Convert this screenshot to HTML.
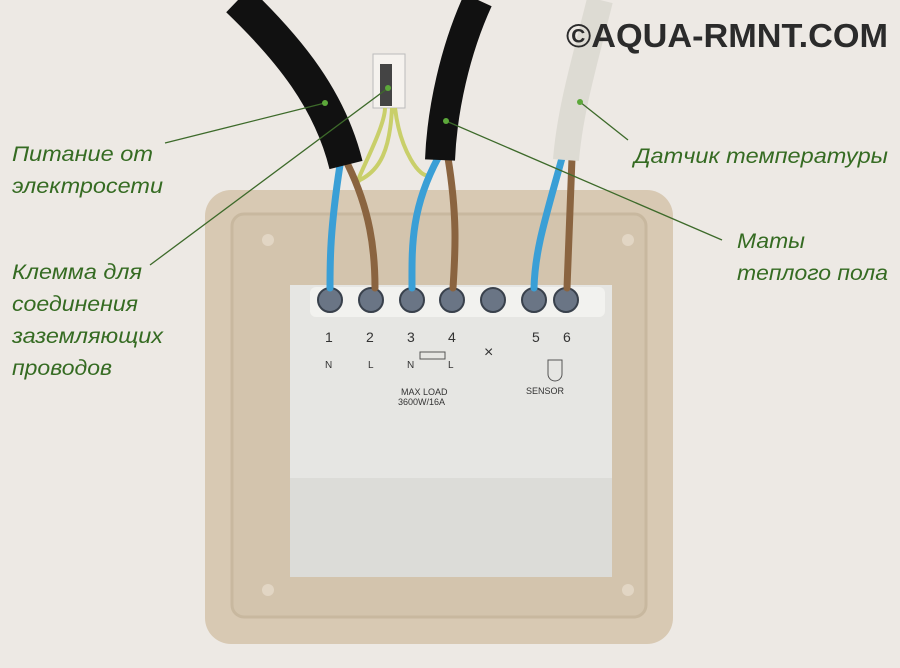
<!DOCTYPE html>
<html><head><meta charset="utf-8"><style>
body{margin:0;width:900px;height:668px;overflow:hidden;background:#ede9e4}
svg{display:block}
.l{font-family:"Liberation Sans",sans-serif;font-style:italic;font-size:21px;fill:#356b22}
</style></head><body>
<svg width="900" height="668" viewBox="0 0 900 668">
<rect width="900" height="668" fill="#ede9e4"/>
<rect x="205" y="190" width="468" height="454" rx="26" fill="#d8c9b3"/>
<rect x="232" y="214" width="414" height="403" rx="12" fill="#d3c4ad" stroke="#c8b89f" stroke-width="3"/>
<circle cx="268" cy="240" r="6" fill="#e2d6c4"/><circle cx="628" cy="240" r="6" fill="#e2d6c4"/>
<circle cx="268" cy="590" r="6" fill="#e2d6c4"/><circle cx="628" cy="590" r="6" fill="#e2d6c4"/>
<rect x="290" y="285" width="322" height="292" fill="#e6e6e3"/>
<rect x="290" y="478" width="322" height="99" fill="#dcdcd8"/>
<rect x="310" y="287" width="295" height="30" rx="6" fill="#f2f2ef"/>
<g fill="#6a7585" stroke="#39414c" stroke-width="2">
<circle cx="330" cy="300" r="12"/><circle cx="371" cy="300" r="12"/><circle cx="412" cy="300" r="12"/>
<circle cx="452" cy="300" r="12"/><circle cx="493" cy="300" r="12"/><circle cx="534" cy="300" r="12"/><circle cx="566" cy="300" r="12"/>
</g>
<g font-family="Liberation Sans,sans-serif" font-size="14" fill="#333">
<text x="325" y="342">1</text><text x="366" y="342">2</text><text x="407" y="342">3</text><text x="448" y="342">4</text>
<text x="532" y="342">5</text><text x="563" y="342">6</text>
<text x="484" y="357" font-size="16">×</text>
<text x="325" y="368" font-size="10">N</text><text x="368" y="368" font-size="10">L</text>
<text x="407" y="368" font-size="10">N</text><text x="448" y="368" font-size="10">L</text>
<text x="401" y="395" font-size="9">MAX LOAD</text><text x="398" y="405" font-size="9">3600W/16A</text>
<text x="526" y="394" font-size="9">SENSOR</text>
</g>
<rect x="420" y="352" width="25" height="7" fill="none" stroke="#555"/>
<path d="M548 360 v14 a7 7 0 0 0 14 0 v-14 z" fill="none" stroke="#555"/>
<rect x="373" y="54" width="32" height="54" fill="#f5f2ee" stroke="#bbb"/>
<rect x="380" y="64" width="12" height="42" fill="#444"/>
<path d="M385 108 C385 130 350 190 360 180 C380 170 390 150 392 108 M395 108 C400 150 420 180 430 175 C440 165 430 150 440 160" fill="none" stroke="#c9cf6a" stroke-width="4"/>
<g fill="none" stroke-width="7" stroke-linecap="round">
<path d="M340 165 C330 230 330 260 330 288" stroke="#3a9fd6"/>
<path d="M348 165 C370 210 375 250 375 288" stroke="#8a6440"/>
<path d="M438 158 C410 210 412 250 412 288" stroke="#3a9fd6"/>
<path d="M448 158 C458 220 455 255 453 288" stroke="#8a6440"/>
<path d="M562 158 C545 220 535 250 534 288" stroke="#3a9fd6"/>
<path d="M572 158 C570 220 568 255 567 288" stroke="#8a6440"/>
</g>
<path d="M238 0 C290 50 330 100 346 165" fill="none" stroke="#111" stroke-width="34"/>
<path d="M478 0 C455 50 442 110 440 160" fill="none" stroke="#111" stroke-width="30"/>
<path d="M600 0 C585 60 570 110 566 160" fill="none" stroke="#e9e6df" stroke-width="26"/>
<path d="M600 0 C585 60 570 110 566 160" fill="none" stroke="#c9c5bd" stroke-width="26" stroke-opacity=".35"/>
<g stroke="#3d6a2a" stroke-width="1.3" fill="none">
<line x1="165" y1="143" x2="325" y2="103"/>
<line x1="150" y1="265" x2="388" y2="88"/>
<line x1="628" y1="140" x2="580" y2="102"/>
<line x1="722" y1="240" x2="446" y2="121"/>
</g>
<g fill="#5ca83a"><circle cx="325" cy="103" r="3"/><circle cx="388" cy="88" r="3"/><circle cx="580" cy="102" r="3"/><circle cx="446" cy="121" r="3"/></g>
<text class="l" x="12" y="161" textLength="141" lengthAdjust="spacingAndGlyphs">Питание от</text>
<text class="l" x="12" y="193" textLength="151" lengthAdjust="spacingAndGlyphs">электросети</text>
<text class="l" x="12" y="279" textLength="130" lengthAdjust="spacingAndGlyphs">Клемма для</text>
<text class="l" x="12" y="311" textLength="126" lengthAdjust="spacingAndGlyphs">соединения</text>
<text class="l" x="12" y="343" textLength="151" lengthAdjust="spacingAndGlyphs">заземляющих</text>
<text class="l" x="12" y="375" textLength="100" lengthAdjust="spacingAndGlyphs">проводов</text>
<text class="l" x="634" y="163" textLength="254" lengthAdjust="spacingAndGlyphs">Датчик температуры</text>
<text class="l" x="737" y="248" textLength="68" lengthAdjust="spacingAndGlyphs">Маты</text>
<text class="l" x="737" y="280" textLength="151" lengthAdjust="spacingAndGlyphs">теплого пола</text>
<text x="566" y="47" font-family="Liberation Sans,sans-serif" font-weight="bold" font-size="33" fill="#2b2b2b" textLength="322" lengthAdjust="spacingAndGlyphs">©AQUA-RMNT.COM</text>
</svg>
</body></html>
